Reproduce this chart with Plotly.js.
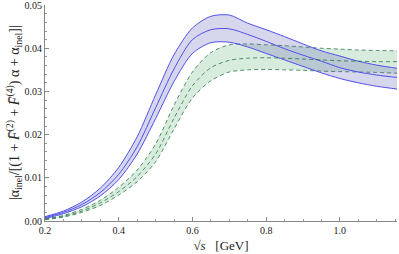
<!DOCTYPE html>
<html><head><meta charset="utf-8">
<script src="https://cdn.plot.ly/plotly-3.0.1.min.js"></script>
<style>html,body{margin:0;padding:0;background:#fff;}#chart{width:399px;height:254px;}</style>
</head><body><div id="chart"></div>
<script>
const sqrtS = [0.2,0.25,0.3,0.35,0.4,0.45,0.5,0.55,0.6,0.65,0.7,0.75,0.8,0.85,0.9,0.95,1.0,1.05,1.1,1.16];
const blueUpper = [0.0010,0.0023,0.0044,0.0076,0.0124,0.0195,0.0292,0.0385,0.0447,0.0474,0.0477,0.0458,0.0443,0.0427,0.0410,0.0394,0.0382,0.0370,0.0361,0.0353];
const blueMid   = [0.0008,0.0020,0.0038,0.0066,0.0108,0.0172,0.0262,0.0352,0.0420,0.0443,0.0445,0.0432,0.0416,0.0399,0.0384,0.0370,0.0355,0.0345,0.0338,0.0332];
const blueLower = [0.0006,0.0017,0.0033,0.0058,0.0096,0.0155,0.0237,0.0323,0.0388,0.0413,0.0414,0.0403,0.0388,0.0373,0.0358,0.0343,0.0330,0.0320,0.0312,0.0305];
const greenUpper = [0.0005,0.0013,0.0027,0.0048,0.0078,0.0118,0.0178,0.0268,0.0345,0.0390,0.0408,0.0410,0.0408,0.0406,0.0403,0.0400,0.0398,0.0396,0.0395,0.0394];
const greenMid   = [0.0004,0.0011,0.0023,0.0042,0.0068,0.0103,0.0155,0.0238,0.0313,0.0355,0.0372,0.0377,0.0378,0.0377,0.0375,0.0373,0.0371,0.0370,0.0369,0.0369];
const greenLower = [0.0003,0.0009,0.0020,0.0036,0.0060,0.0091,0.0137,0.0213,0.0285,0.0325,0.0345,0.0350,0.0351,0.0350,0.0349,0.0347,0.0346,0.0345,0.0344,0.0342];
const yTickVals = [0,0.01,0.02,0.03,0.04,0.05];
const yTickText = ['0.00','0.01','0.02','0.03','0.04','0.05'];
const xTickVals = [0.2,0.4,0.6,0.8,1.0];
const xTickText = ['0.2','0.4','0.6','0.8','1.0'];

const blueLine = {color:'rgb(80,80,235)', width:1, shape:'spline', smoothing:0.8};
const greenLine = {color:'rgba(30,110,60,0.75)', width:1, dash:'4px,3px', shape:'spline', smoothing:0.8};
const traces = [
  {x:sqrtS, y:greenLower, mode:'lines', line:greenLine, hoverinfo:'skip'},
  {x:sqrtS, y:greenUpper, mode:'lines', line:greenLine, fill:'tonexty', fillcolor:'rgba(60,160,90,0.2)', hoverinfo:'skip'},
  {x:sqrtS, y:blueLower, mode:'lines', line:blueLine, hoverinfo:'skip'},
  {x:sqrtS, y:blueUpper, mode:'lines', line:blueLine, fill:'tonexty', fillcolor:'rgba(90,90,180,0.25)', hoverinfo:'skip'},
  {x:sqrtS, y:blueMid, mode:'lines', line:blueLine, hoverinfo:'skip'},
  {x:sqrtS, y:greenMid, mode:'lines', line:greenLine, hoverinfo:'skip'}
];
const font = {family:'Liberation Serif, Times New Roman, serif', size:10, color:'#222'};
const layout = {
  width:399, height:254,
  margin:{l:45, r:2, t:5, b:33, pad:0},
  paper_bgcolor:'#fff', plot_bgcolor:'#fff',
  showlegend:false,
  font:font,
  xaxis:{range:[0.2,1.155], showgrid:false, zeroline:false, showline:true, linecolor:'#888', linewidth:1,
    ticks:'inside', ticklen:4, tickcolor:'#888', tickvals:xTickVals, ticktext:xTickText,
    minor:{ticks:'inside', ticklen:2, tickcolor:'#999', dtick:0.05, tick0:0.2},
    tickfont:font,
    title:{text:'\u221A<i>s</i>   [GeV]', font:{family:'Liberation Serif, serif', size:13, color:'#222'}, standoff:5}},
  yaxis:{range:[0,0.05002], showgrid:false, zeroline:false, showline:true, linecolor:'#888', linewidth:1,
    ticks:'inside', ticklen:4, tickcolor:'#888', tickvals:yTickVals, ticktext:yTickText,
    minor:{ticks:'inside', ticklen:2, tickcolor:'#999', dtick:0.002, tick0:0},
    ticklabeloverflow:'allow', tickfont:font},
  annotations:[{xref:'paper', yref:'paper', x:-0.088, y:0.5, xanchor:'center', yanchor:'middle', showarrow:false, textangle:-90,
    text:'|α<sub>inel</sub>/[(1 + <i>F̄</i><sup>(2)</sup> + <i>F̄</i><sup>(4)</sup>) α + α<sub>inel</sub>]|',
    font:{family:'Liberation Serif, serif', size:14, color:'#222'}}]
};
Plotly.newPlot('chart', traces, layout, {staticPlot:true, displayModeBar:false});
</script></body></html>
